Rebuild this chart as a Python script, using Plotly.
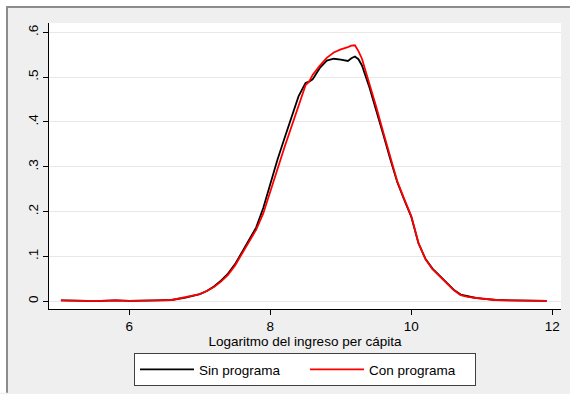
import plotly.graph_objects as go

# Log per-capita income grid and kernel density estimates
log_income = [5.03, 5.2, 5.4, 5.6, 5.8, 6.0, 6.2, 6.4, 6.6, 6.8, 7.0, 7.1, 7.2, 7.3,
              7.4, 7.5, 7.6, 7.7, 7.8, 7.9, 8.0, 8.1, 8.2, 8.3, 8.4, 8.5, 8.55, 8.6,
              8.7, 8.8, 8.9, 9.0, 9.1, 9.15, 9.2, 9.25, 9.3, 9.4, 9.5, 9.6, 9.7, 9.8,
              9.9, 10.0, 10.1, 10.2, 10.3, 10.4, 10.5, 10.6, 10.7, 10.8, 10.9, 11.0,
              11.2, 11.4, 11.6, 11.8, 11.92]

sin_programa = [0.002, 0.001, 0.001, 0.001, 0.002, 0.001, 0.001, 0.002, 0.003, 0.008,
                0.016, 0.023, 0.033, 0.046, 0.062, 0.083, 0.110, 0.137, 0.165, 0.208,
                0.262, 0.315, 0.363, 0.410, 0.457, 0.487, 0.490, 0.495, 0.520, 0.537,
                0.541, 0.539, 0.536, 0.542, 0.546, 0.540, 0.526, 0.480, 0.428, 0.373,
                0.318, 0.266, 0.226, 0.188, 0.130, 0.095, 0.073, 0.057, 0.041, 0.026,
                0.015, 0.011, 0.008, 0.006, 0.003, 0.002, 0.001, 0.001, 0.001]

con_programa = [0.002, 0.001, 0.001, 0.001, 0.002, 0.001, 0.001, 0.002, 0.003, 0.009,
                0.016, 0.023, 0.032, 0.044, 0.059, 0.080, 0.107, 0.133, 0.160, 0.196,
                0.243, 0.294, 0.343, 0.388, 0.436, 0.482, 0.490, 0.505, 0.525, 0.543,
                0.555, 0.562, 0.567, 0.570, 0.571, 0.558, 0.541, 0.489, 0.435, 0.378,
                0.320, 0.268, 0.228, 0.190, 0.131, 0.094, 0.072, 0.056, 0.040, 0.025,
                0.014, 0.010, 0.008, 0.006, 0.003, 0.002, 0.001, 0.001, 0.001]

y_ticks = [0, 0.1, 0.2, 0.3, 0.4, 0.5, 0.6]
y_tick_labels = ["0", ".1", ".2", ".3", ".4", ".5", ".6"]
x_ticks = [6, 8, 10, 12]

FONT = "Liberation Sans, Arial, sans-serif"
FS = 13.5

fig = go.Figure()
fig.add_trace(go.Scatter(x=log_income, y=sin_programa, mode="lines",
                         name="Sin programa", line=dict(color="#000000", width=1.8)))
fig.add_trace(go.Scatter(x=log_income, y=con_programa, mode="lines",
                         name="Con programa", line=dict(color="#ff0000", width=1.8)))

# Plot area spans 512 x 287 px; frame around the graph region
W, H = 570, 394
L, R, T, B = 49, 9, 23, 84
pw, ph = W - L - R, H - T - B


def px_x(p):
    return (p - L) / pw


def px_y(p):
    return (H - B - p) / ph


shapes = [
    # white strips outside the framed region
    dict(type="rect", xref="paper", yref="paper", x0=px_x(0), x1=px_x(W),
         y0=px_y(6), y1=px_y(0), fillcolor="white", line_width=0, layer="below"),
    dict(type="rect", xref="paper", yref="paper", x0=px_x(0), x1=px_x(6),
         y0=px_y(H), y1=px_y(0), fillcolor="white", line_width=0, layer="below"),
    # frame lines
    dict(type="line", xref="paper", yref="paper", x0=px_x(6), x1=px_x(W),
         y0=px_y(7), y1=px_y(7), line=dict(color="#8c8c8c", width=2)),
    dict(type="line", xref="paper", yref="paper", x0=px_x(7), x1=px_x(7),
         y0=px_y(6), y1=px_y(H), line=dict(color="#8c8c8c", width=2)),
]

fig.update_layout(
    width=W, height=H,
    margin=dict(l=L, r=R, t=T, b=B),
    paper_bgcolor="#efefef",
    plot_bgcolor="white",
    font=dict(family=FONT, size=FS, color="#000000"),
    shapes=shapes,
    showlegend=True,
    legend=dict(
        orientation="h", x=0.5, xanchor="center", y=px_y(353), yanchor="top",
        bgcolor="white", bordercolor="#404040", borderwidth=1,
        font=dict(family=FONT, size=FS, color="#000000"),
        itemwidth=54, entrywidth=101, entrywidthmode="pixels", tracegroupgap=0,
    ),
    xaxis=dict(
        range=[4.861, 12.123], tickvals=x_ticks, ticks="outside", ticklen=5,
        tickcolor="#000000", showline=True, linecolor="#000000", linewidth=1,
        showgrid=False, zeroline=False, tickfont=dict(size=FS),
        title=dict(text="Logaritmo del ingreso per cápita", font=dict(size=FS), standoff=1),
    ),
    yaxis=dict(
        range=[-0.0171, 0.6207], tickvals=y_ticks, ticktext=y_tick_labels,
        ticks="outside", ticklen=5, tickcolor="#000000", tickangle=-90,
        showline=True, linecolor="#000000", linewidth=1,
        showgrid=True, gridcolor="#e8e8e8", gridwidth=1, zeroline=False,
        tickfont=dict(size=FS),
    ),
)

fig.write_html("out.html")
